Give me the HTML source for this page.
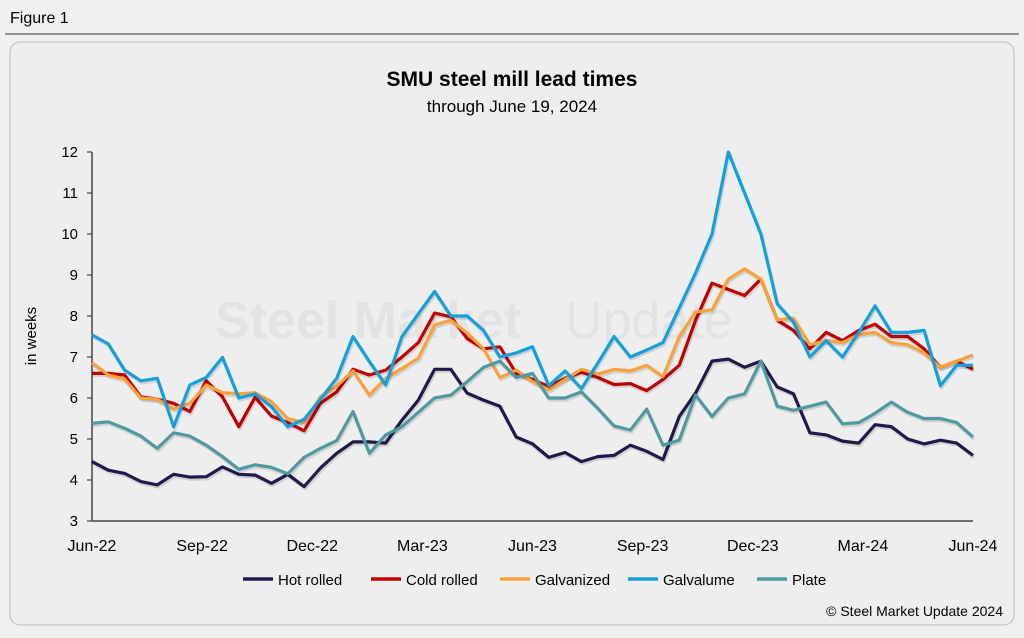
<!DOCTYPE html>
<html><head><meta charset="utf-8"><style>
body{margin:0;width:1024px;height:633px;background:#f0f0f0;font-family:"Liberation Sans",sans-serif;overflow:hidden}
</style></head><body>
<svg width="1024" height="633" xmlns="http://www.w3.org/2000/svg">
<rect x="0" y="0" width="1024" height="633" fill="#f0f0f0"/>
<text x="10" y="23" font-size="16" fill="#000">Figure 1</text>
<line x1="5" y1="34" x2="1019" y2="34" stroke="#333" stroke-width="1"/>
<rect x="10" y="42" width="1004" height="583" rx="10" fill="#eeeeee" stroke="#bbb"/>
<text x="512" y="86" font-size="21" font-weight="bold" text-anchor="middle">SMU steel mill lead times</text>
<text x="512" y="112" font-size="17" text-anchor="middle">through June 19, 2024</text>
<g opacity="0.35">
<text x="215" y="338" font-size="52" font-weight="bold" fill="#d0d0d0">Steel Market</text>
<text x="565" y="338" font-size="52" fill="#d0d0d0">Update</text>
</g>
<text x="36" y="336" font-size="15" text-anchor="middle" transform="rotate(-90 36 336)">in weeks</text>
<g id="axes"></g>
<g id="series"></g>
<g id="legend" font-size="15"></g>
<text x="1003" y="616" font-size="14" text-anchor="end">© Steel Market Update 2024</text>
</svg>
<script>
const xLabels=["Jun-22","Sep-22","Dec-22","Mar-23","Jun-23","Sep-23","Dec-23","Mar-24","Jun-24"];
const yTicks=[3,4,5,6,7,8,9,10,11,12];
const seriesNames=["Hot rolled","Cold rolled","Galvanized","Galvalume","Plate"];
const seriesColors=["#1f1a4a","#c00000","#f9a23c","#14a0dc","#4e9aa0"];
const hotRolled=[4.45,4.24,4.16,3.96,3.88,4.14,4.07,4.08,4.32,4.14,4.12,3.92,4.14,3.84,4.29,4.65,4.93,4.93,4.9,5.46,5.95,6.7,6.7,6.12,5.95,5.8,5.05,4.88,4.55,4.67,4.45,4.57,4.6,4.85,4.7,4.5,5.55,6.12,6.9,6.95,6.75,6.9,6.27,6.1,5.15,5.1,4.95,4.9,5.35,5.3,5.0,4.88,4.97,4.9,4.6];
const coldRolled=[6.6,6.6,6.56,6.03,5.97,5.87,5.67,6.42,6.03,5.3,6.02,5.56,5.4,5.2,5.87,6.15,6.7,6.56,6.68,7.0,7.35,8.07,7.98,7.45,7.2,7.25,6.6,6.45,6.28,6.48,6.63,6.5,6.33,6.35,6.18,6.45,6.8,7.9,8.8,8.65,8.5,8.9,7.9,7.65,7.2,7.6,7.4,7.65,7.8,7.5,7.5,7.2,6.75,6.9,6.7];
const galvanized=[6.86,6.56,6.46,6.0,5.97,5.73,5.87,6.32,6.13,6.1,6.13,5.91,5.5,5.4,6.03,6.29,6.66,6.07,6.48,6.72,6.97,7.78,7.9,7.58,7.2,6.5,6.68,6.4,6.2,6.45,6.7,6.58,6.7,6.66,6.8,6.52,7.5,8.1,8.15,8.9,9.15,8.9,7.9,7.95,7.3,7.4,7.35,7.55,7.6,7.35,7.3,7.1,6.75,6.9,7.05];
const galvalume=[7.54,7.32,6.68,6.42,6.48,5.3,6.32,6.5,6.99,6.0,6.1,5.79,5.3,5.48,5.97,6.48,7.5,6.89,6.32,7.5,8.05,8.6,8.0,8.0,7.65,7.0,7.1,7.25,6.3,6.66,6.23,6.85,7.5,7.0,7.17,7.35,8.2,9.05,10.0,12.0,11.0,10.0,8.3,7.85,7.0,7.4,7.0,7.6,8.25,7.6,7.6,7.65,6.3,6.8,6.8];
const plate=[5.38,5.42,5.26,5.07,4.77,5.15,5.07,4.85,4.57,4.26,4.37,4.31,4.15,4.55,4.77,4.96,5.67,4.65,5.1,5.3,5.65,6.0,6.07,6.4,6.75,6.9,6.5,6.6,6.0,6.0,6.15,5.75,5.32,5.22,5.73,4.85,4.97,6.07,5.55,6.0,6.1,6.9,5.8,5.7,5.8,5.9,5.37,5.4,5.63,5.9,5.65,5.5,5.5,5.4,5.05];
const allSeries=[hotRolled,coldRolled,galvanized,galvalume,plate];
const NS="http://www.w3.org/2000/svg";
const X0=92,X1=973,Y0=521,Y1=152;
const n=hotRolled.length;
function xs(i){return X0+(X1-X0)*i/(n-1);}
function ys(v){return Y0-(v-3)/(12-3)*(Y0-Y1);}
function mk(tag,attrs,parent){const e=document.createElementNS(NS,tag);for(const k in attrs)e.setAttribute(k,attrs[k]);parent.appendChild(e);return e;}
const axes=document.getElementById('axes');
const ya=mk('line',{x1:X0,y1:Y1,x2:X0,y2:Y0,stroke:'#444','stroke-width':1.5},axes);


const xa=mk('line',{x1:X0,y1:Y0,x2:X1,y2:Y0,stroke:'#444','stroke-width':1.5},axes);


yTicks.forEach(v=>{
  mk('line',{x1:X0-5,y1:ys(v),x2:X0,y2:ys(v),stroke:'#444','stroke-width':1.2},axes);
  const t=mk('text',{x:X0-14,y:ys(v)+5,'font-size':15,'text-anchor':'end'},axes);
  t.textContent=v;
  
  
});
xLabels.forEach((l,i)=>{
  const x=X0+(X1-X0)*i/(xLabels.length-1);
  const t=mk('text',{x:x,y:551,'font-size':16,'text-anchor':'middle'},axes);
  t.textContent=l;
  
  
});
const sg=document.getElementById('series');
allSeries.forEach((s,k)=>{
  const d=s.map((v,i)=>(i?'L':'M')+xs(i).toFixed(1)+' '+ys(v).toFixed(1)).join(' ');
  mk('path',{d:d,fill:'none',stroke:'rgba(0,0,0,0.12)','stroke-width':3.5,transform:'translate(1,2)','stroke-linejoin':'round'},sg);
  const p=mk('path',{d:d,fill:'none',stroke:seriesColors[k],'stroke-width':3.2,'stroke-linejoin':'round'},sg);
  
  
});
const lg=document.getElementById('legend');
const lx=[243,371,500,628,757];
seriesNames.forEach((nm,k)=>{
  const g=mk('g',{},lg);
  
  
  mk('line',{x1:lx[k],y1:579,x2:lx[k]+30,y2:579,stroke:seriesColors[k],'stroke-width':3.5},g);
  const t=mk('text',{x:lx[k]+35,y:585},g);
  t.textContent=nm;
});
</script>
</body></html>
